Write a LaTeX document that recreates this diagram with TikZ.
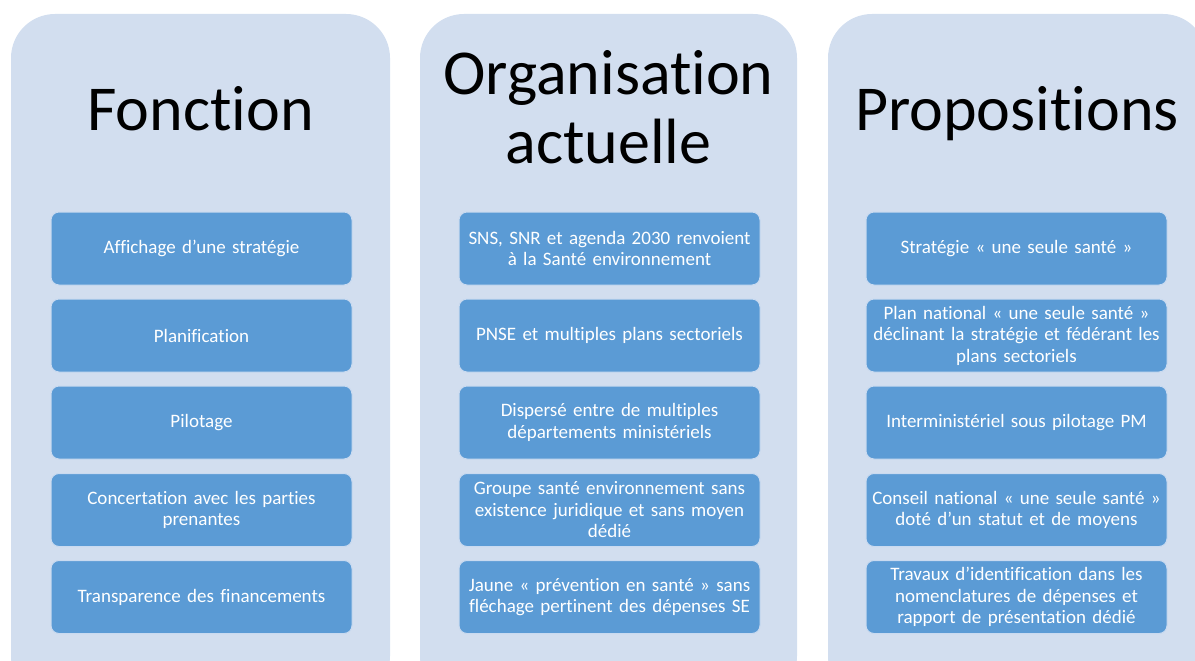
\documentclass[tikz,border=0pt]{standalone}
\usepackage{fontspec}
\setmainfont{Carlito}[RawFeature={-liga}]
\begin{document}
\begin{tikzpicture}[x=1pt,y=-1pt,
  item/.style={draw=itemedge, line width=1pt, fill=itembg, rounded corners=8pt,
    minimum width=301pt, minimum height=73pt, inner sep=0pt, text=white,
    align=center, font=\fontsize{19}{21.5}\selectfont, text width=296pt},
  ttl/.style={anchor=base, font=\fontsize{64}{68}\selectfont, text=black, inner sep=0pt}
]
\definecolor{panelbg}{HTML}{D2DEEF}
\definecolor{itembg}{HTML}{5B9BD5}
\definecolor{itemedge}{HTML}{C9DAF0}
\useasboundingbox (0,0) rectangle (1195,661);
\begin{scope}
\clip (0,0) rectangle (1195,661);
\fill[panelbg, rounded corners=44pt] (11,14) rectangle (390,700);
\fill[panelbg, rounded corners=44pt] (420,14) rectangle (797,700);
\fill[panelbg, rounded corners=44pt] (828,14) rectangle (1207,700);
\end{scope}
% titles
\node[ttl] (t1) at (200.5,131) {Fonction};
\node[ttl] (t2a) at (608.5,95) {Organisation};
\node[ttl] (t2b) at (608.5,163) {actuelle};
\node[ttl] (t3) at (1017,130) {Propositions};
% column 1
\node[item] (a1) at (201.5,248.5) {Affichage d’une stratégie};
\node[item] (a2) at (201.5,335.5) {Planification};
\node[item] (a3) at (201.5,422.5) {Pilotage};
\node[item] (a4) at (201.5,510) {Concertation avec les parties\\prenantes};
\node[item] (a5) at (201.5,597) {Transparence des financements};
% column 2
\node[item] (b1) at (609.5,248.5) {SNS, SNR et agenda 2030 renvoient\\à la Santé environnement};
\node[item] (b2) at (609.5,335.5) {PNSE et multiples plans sectoriels};
\node[item] (b3) at (609.5,422.5) {Dispersé entre de multiples\\départements ministériels};
\node[item] (b4) at (609.5,510) {Groupe santé environnement sans\\existence juridique et sans moyen\\dédié};
\node[item] (b5) at (609.5,597) {Jaune « prévention en santé » sans\\fléchage pertinent des dépenses SE};
% column 3
\node[item] (c1) at (1016.5,248.5) {Stratégie « une seule santé »};
\node[item] (c2) at (1016.5,335.5) {Plan national « une seule santé »\\déclinant la stratégie et fédérant les\\plans sectoriels};
\node[item] (c3) at (1016.5,422.5) {Interministériel sous pilotage PM};
\node[item] (c4) at (1016.5,510) {Conseil national « une seule santé »\\doté d’un statut et de moyens};
\node[item] (c5) at (1016.5,597) {Travaux d’identification dans les\\nomenclatures de dépenses et\\rapport de présentation dédié};
\end{tikzpicture}
\end{document}
